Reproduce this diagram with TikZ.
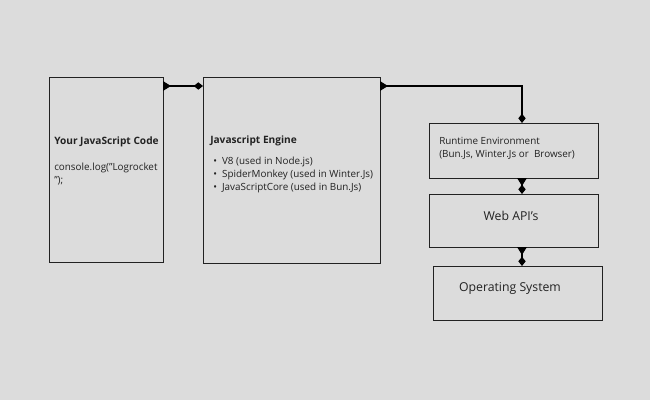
\documentclass[tikz,border=0pt]{standalone}
\usepackage{fontspec}
\setmainfont{Open Sans}
\usetikzlibrary{arrows.meta}
\definecolor{bg}{HTML}{DCDCDC}
\definecolor{ink}{HTML}{222222}
\begin{document}
\begin{tikzpicture}[x=0.75pt,y=-0.75pt,
 box/.style={draw=ink,line width=0.6pt},
 conn/.style={draw=black,line width=1.4pt,{Triangle[reversed,length=6pt,width=7pt]}-{Diamond[length=7pt,width=5.5pt]}},
 txt/.style={font=\fontsize{7.4pt}{9.5pt}\selectfont,text=ink,anchor=north west,inner sep=0pt,align=left}]
\fill[bg] (0,0) rectangle (650,400);
\useasboundingbox (0,0) rectangle (650,400);
\draw[box] (49,77) rectangle (163,262);
\coordinate (a) at (163,86);
\draw[box] (203,77) rectangle (380,263);
\coordinate (b1) at (203,86);
\coordinate (b2) at (380,86);
\draw[box] (429,123) rectangle (598,178);
\coordinate (c1) at (522,123); \coordinate (c2) at (522,178);
\draw[box] (429,194) rectangle (598,247);
\coordinate (d1) at (522,194); \coordinate (d2) at (522,247);
\draw[box] (433,266) rectangle (602,320);
\coordinate (e1) at (522,266);
\node[txt,font=\fontsize{7.6pt}{9pt}\selectfont\bfseries] (t1) at (54,137) {Your JavaScript Code};
\node[txt] (t2) at (54,163) {console.log("Logrocket\\");};
\node[txt,font=\fontsize{7.6pt}{9pt}\selectfont\bfseries] (t3) at (210,136) {Javascript Engine};
\node[txt] (t4) at (213,157) {•\ \ V8 (used in Node.js)\\•\ \ SpiderMonkey (used in Winter.Js)\\•\ \ JavaScriptCore (used in Bun.Js)};
\node[txt] (t5) at (439,137) {Runtime Environment\\(Bun.Js, Winter.Js or\ \ Browser)};
\node[font=\fontsize{9.2pt}{11pt}\selectfont,text=ink] (t6) at (511,216) {Web API’s};
\node[font=\fontsize{9.2pt}{11pt}\selectfont,text=ink] (t7) at (510,288) {Operating System};
\draw[conn] (a) -- (b1);
\draw[conn] (b2) -- (522,86) -- (c1);
\draw[conn] (c2) -- (d1);
\draw[conn] (d2) -- (e1);
\end{tikzpicture}
\end{document}
